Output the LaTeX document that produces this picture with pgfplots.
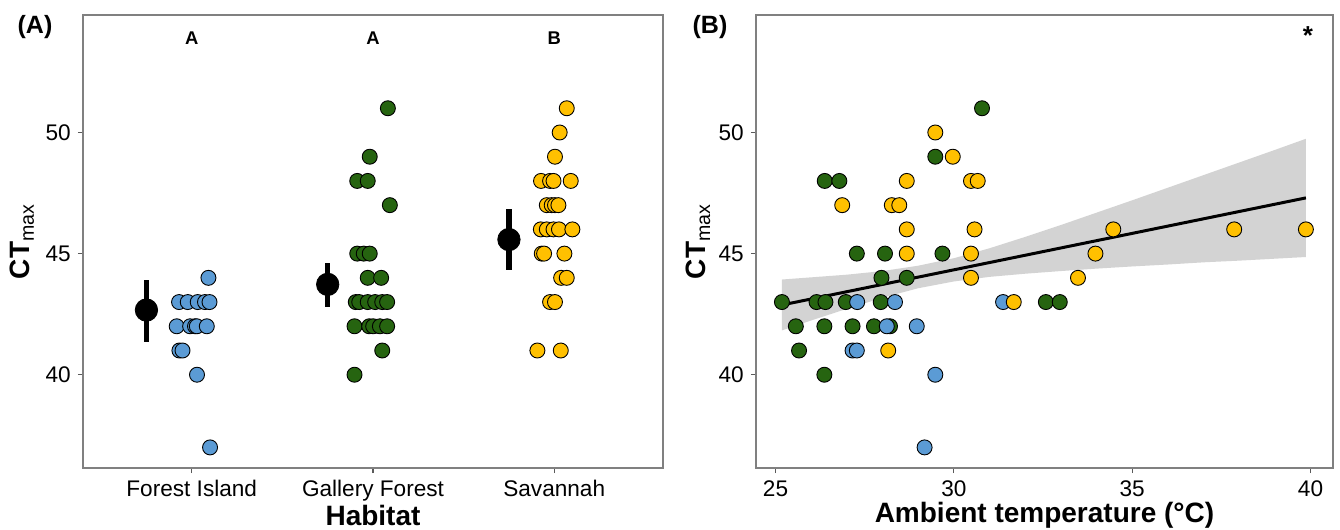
\documentclass[border=0pt]{standalone}
\usepackage{pgfplots}
\pgfplotsset{compat=1.18}
\usepackage{fontspec}
\setmainfont{Liberation Sans}
\definecolor{fiblue}{RGB}{91,155,213}
\definecolor{gfgreen}{RGB}{38,100,16}
\definecolor{svyellow}{RGB}{255,192,0}
\definecolor{ribbon}{RGB}{211,211,211}
\definecolor{boxgray}{RGB}{128,128,128}

\pgfplotsset{
  panel/.style={
    scale only axis,
    ymin=36.15, ymax=54.85,
    ytick={40,45,50},
    axis line style={boxgray, line width=0.7pt},
    tick style={boxgray!70!black, line width=0.6pt},
    major tick length=2.6pt,
    tick align=outside,
    xtick pos=bottom, ytick pos=left,
    /pgf/number format/assume math mode=true,
    ticklabel style={font=\fontsize{11.3}{13.6}\selectfont, text=black},
    label style={font=\fontsize{14}{16}\selectfont\bfseries},
    clip=false,
  },
  pt/.style={only marks, mark=*, mark size=3.75pt, mark options={draw=black, line width=0.45pt, fill=#1}},
}

\begin{document}
\begin{tikzpicture}
\path[use as bounding box] (0,0) rectangle (670pt,265pt);

% (A) habitat
\begin{axis}[panel,
  at={(41.5pt,31pt)}, anchor=south west,
  width=290pt, height=226.5pt,
  xmin=0.4, xmax=3.6,
  xtick={1,2,3},
  xticklabels={Forest Island, Gallery Forest, Savannah},
  xlabel={Habitat},
  ylabel={{\bfseries CT}\textsubscript{\mdseries max}},
  xlabel style={at={(axis description cs:0.5,-0.104)}, anchor=center},
  ylabel style={at={(axis description cs:-0.105,0.5)}, anchor=center},
]
\addplot[pt=fiblue] table {
x y
1.092 44
0.930 43
0.978 43
1.033 43
1.073 43
1.098 43
0.917 42
0.991 42
1.018 42
1.028 42
1.083 42
0.932 41
0.949 41
1.029 40
1.101 37
};
\addplot[pt=gfgreen] table {
x y
2.082 51
1.982 49
1.913 48
1.971 48
2.093 47
1.913 45
1.949 45
1.982 45
1.971 44
2.045 44
1.905 43
1.924 43
1.971 43
2.012 43
2.051 43
2.078 43
1.898 42
1.979 42
2.001 42
2.038 42
2.078 42
2.051 41
1.898 40
};
\addplot[pt=svyellow] table {
x y
3.069 51
3.030 50
3.004 49
2.927 48
2.977 48
2.996 48
3.091 48
2.959 47
2.986 47
3.004 47
3.023 47
2.926 46
2.959 46
2.996 46
3.026 46
3.100 46
2.931 45
2.944 45
3.056 45
3.038 44
3.069 44
2.977 43
3.004 43
2.907 41
3.036 41
};
% group means with intervals
\addplot[only marks, mark=*, mark size=5.6pt, black,
  error bars/.cd, y dir=both, y explicit, error mark=none,
  error bar style={line width=2.6pt, black}]
coordinates {
(0.75,42.67) += (0,1.23) -= (0,1.30)
(1.75,43.73) += (0,0.90) -= (0,0.93)
(2.75,45.58) += (0,1.25) -= (0,1.26)
};
\node[font=\fontsize{9.2}{11}\selectfont\bfseries] at (axis cs:1,53.9) {A};
\node[font=\fontsize{9.2}{11}\selectfont\bfseries] at (axis cs:2,53.9) {A};
\node[font=\fontsize{9.2}{11}\selectfont\bfseries] at (axis cs:3,53.9) {B};
\end{axis}

% (B) ambient temperature
\begin{axis}[panel,
  at={(378pt,31pt)}, anchor=south west,
  width=288.5pt, height=226.5pt,
  xmin=24.453, xmax=40.63,
  xtick={25,30,35,40},
  xlabel={Ambient temperature (°C)},
  ylabel={{\bfseries CT}\textsubscript{\mdseries max}},
  xlabel style={at={(axis description cs:0.5,-0.104)}, anchor=center},
  ylabel style={at={(axis description cs:-0.10,0.5)}, anchor=center},
]
\addplot[fill=ribbon, draw=none] coordinates {
(25.18,43.93) (26,44.02) (27,44.13) (28,44.28) (29,44.50) (30,44.81)
(31,45.22) (32,45.69) (33,46.18) (34,46.69) (35,47.20) (36,47.72)
(37,48.24) (38,48.76) (39,49.28) (39.87,49.74)
(39.87,44.86) (39,44.79) (38,44.71) (37,44.64) (36,44.55) (35,44.47)
(34,44.38) (33,44.28) (32,44.17) (31,44.04) (30,43.85) (29,43.57)
(28,43.18) (27,42.72) (26,42.24) (25.18,41.83)
} -- cycle;
\addplot[black, line width=1.5pt] coordinates {(25.18,42.88) (39.87,47.30)};
\addplot[pt=gfgreen] table {
x y
25.18 43
25.57 42
25.66 41
26.38 48
26.79 48
26.15 43
26.40 43
26.97 43
26.37 42
27.16 42
27.76 42
28.21 42
26.37 40
27.28 45
28.07 45
27.97 44
28.68 44
27.95 43
29.48 49
29.68 45
30.79 51
32.58 43
32.97 43
};
\addplot[pt=fiblue] table {
x y
27.29 43
28.35 43
31.38 43
28.12 42
28.96 42
27.16 41
27.28 41
29.48 40
29.18 37
};
\addplot[pt=svyellow] table {
x y
26.87 47
28.26 47
28.47 47
28.68 48
28.68 46
28.68 45
28.16 41
29.48 50
29.97 49
30.48 48
30.67 48
30.58 46
30.48 45
30.48 44
31.68 43
34.47 46
33.97 45
33.48 44
37.86 46
39.87 46
};
\node[font=\fontsize{13}{15}\selectfont\bfseries] at (axis cs:39.93,54.0) {*};
\end{axis}

\node[font=\fontsize{12.5}{15}\selectfont\bfseries] at (17.5pt,251.5pt) {(A)};
\node[font=\fontsize{12.5}{15}\selectfont\bfseries] at (355pt,251.5pt) {(B)};
\end{tikzpicture}
\end{document}
